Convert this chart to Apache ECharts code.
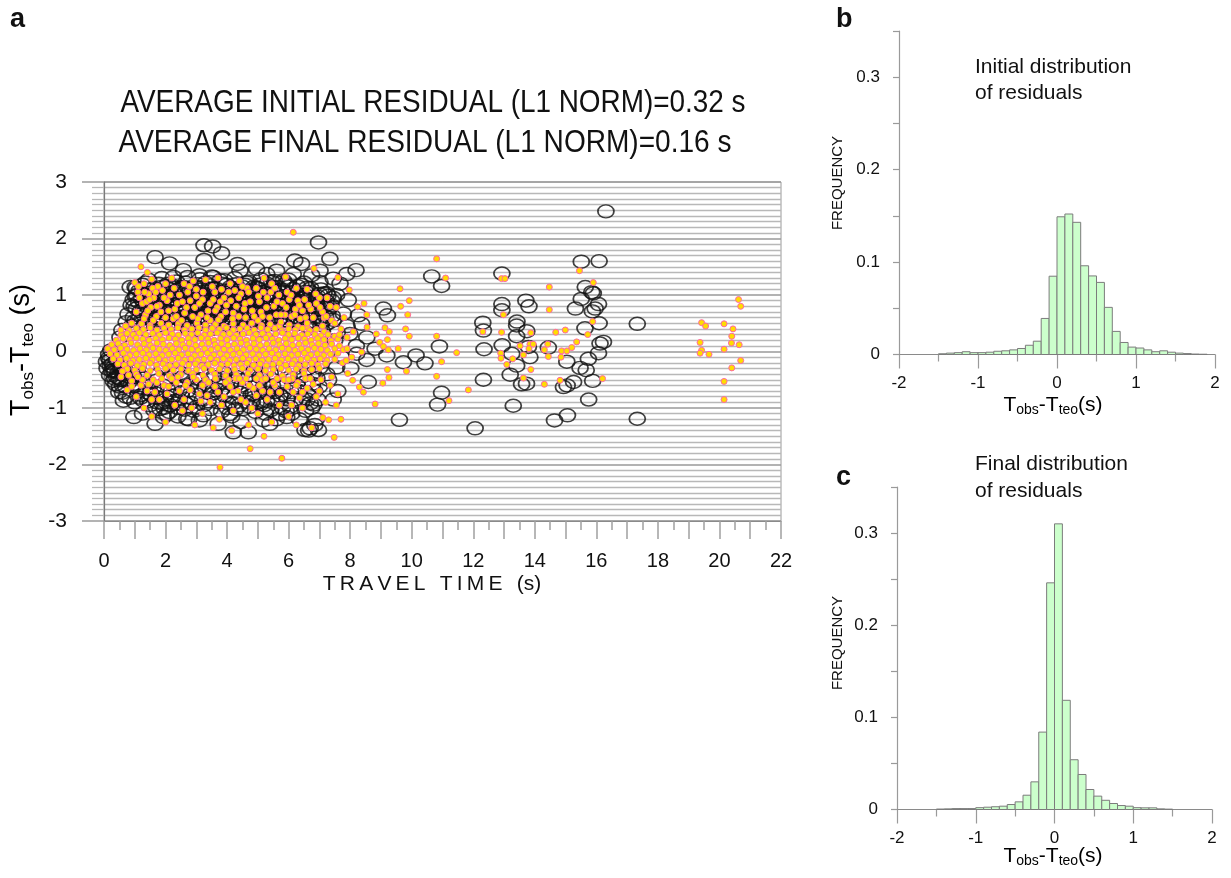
<!DOCTYPE html>
<html><head><meta charset="utf-8">
<script src="https://cdn.jsdelivr.net/npm/echarts@6/dist/echarts.min.js"></script>
<style>html,body{margin:0;padding:0;background:#fff}#c{width:1231px;height:878px}</style>
</head><body><div id="c"></div>
<script>
// ---------- Panel a: residual vs travel time ----------
const xTickValues = [0,2,4,6,8,10,12,14,16,18,20,22];
const yTickValues = [-3,-2,-1,0,1,2,3];

// initial residuals (open circles) - outliers beyond 8 s
const circlesFar = [[16.31,2.48],[15.51,1.59],[16.09,1.60],[10.65,1.33],[10.97,1.16],[12.93,1.38],[12.93,0.84],[12.93,0.73],[13.71,0.90],[13.81,0.80],[15.64,1.14],[15.90,1.03],[15.85,1.05],[15.51,0.93],[15.32,0.76],[16.07,0.84],[15.96,0.76],[15.87,0.71],[9.08,0.76],[9.21,0.64],[12.31,0.51],[12.33,0.37],[13.42,0.53],[13.41,0.46],[13.74,0.36],[13.41,0.27],[15.63,0.41],[16.09,0.50],[17.33,0.49],[10.90,0.09],[12.94,0.11],[12.35,0.04],[14.44,0.07],[13.79,0.08],[13.84,-0.10],[13.25,-0.04],[16.23,0.17],[16.12,0.14],[16.07,-0.03],[15.74,-0.13],[15.04,-0.18],[9.19,-0.07],[10.14,-0.07],[9.73,-0.19],[10.43,-0.21],[13.41,-0.25],[13.20,-0.41],[15.47,-0.29],[15.67,-0.33],[12.33,-0.50],[15.88,-0.52],[13.57,-0.58],[13.73,-0.57],[15.26,-0.54],[15.05,-0.60],[14.93,-0.63],[10.97,-0.73],[10.84,-0.94],[15.75,-0.85],[13.30,-0.96],[9.60,-1.21],[12.06,-1.36],[14.64,-1.22],[15.06,-1.13],[17.33,-1.19]];
// initial residuals - edge of the main cloud
const circlesEdge = [[6.97,1.93],[3.25,1.88],[3.53,1.86],[3.82,1.74],[1.66,1.67],[2.13,1.56],[3.25,1.62],[6.20,1.61],[6.42,1.55],[7.34,1.64],[4.34,1.55],[4.42,1.43],[8.19,1.44],[7.89,1.37],[2.58,1.44],[3.10,1.35],[1.01,1.14],[1.06,1.00],[4.96,1.46],[5.61,1.43],[6.15,1.37],[6.75,1.35],[7.45,1.29],[7.67,1.20],[7.56,1.00],[7.94,0.91],[8.27,0.64],[8.37,0.49],[7.99,0.31],[8.54,0.25],[8.81,0.05],[8.54,-0.15],[8.59,-0.54],[8.21,-0.04],[0.97,-1.16],[1.66,-1.28],[1.93,-1.16],[2.04,-1.11],[2.69,-1.19],[3.23,-1.13],[3.71,-1.28],[4.20,-1.43],[4.69,-1.43],[5.18,-1.22],[5.39,-1.28],[5.94,-1.16],[5.72,-1.11],[6.53,-1.39],[6.70,-1.36],[6.97,-1.39],[0.63,-0.87],[1.28,-0.87],[1.49,-0.75],[1.17,-0.63],[0.41,-0.45],[0.30,-0.33],[0.19,-0.16],[0.58,-0.25],[0.96,-0.45],[2.69,-0.45],[3.55,-0.69],[4.20,-0.92],[4.85,-0.75],[5.29,-0.87],[5.83,-0.75],[6.70,-0.92],[7.24,-0.40],[7.56,-0.28],[6.59,-0.52],[5.07,-0.45],[1.82,-1.02],[2.36,-0.92],[3.01,-0.98],[4.09,-1.11],[4.74,-0.98],[6.05,-0.98],[3.55,-0.45],[0.52,0.25],[0.85,1.14],[2.26,1.32],[2.53,1.14],[3.55,1.32],[3.77,1.26],[5.29,1.37],[5.83,1.26],[7.02,1.43],[7.02,1.23],[7.24,1.03],[7.34,0.79],[7.45,0.56],[7.78,0.67],[7.50,0.20],[7.72,-0.10],[7.90,0.45],[8.02,-0.30],[7.30,-0.50],[7.60,-0.70],[8.20,0.10],[7.45,-0.85]];
// initial residuals - dense band above the final-residual cloud
const circlesUpper = [[1.25,1.18],[1.62,1.12],[2.08,1.2],[2.47,1.1],[2.92,1.16],[3.3,1.22],[3.62,1.12],[3.98,1.18],[4.4,1.1],[4.88,1.15],[5.3,1.2],[5.78,1.1],[6.28,1.16],[6.72,1.12],
[1.02,0.98],[1.41,1.03],[1.83,0.96],[2.28,1.02],[2.66,0.97],[3.08,1.04],[3.48,0.98],[3.86,1.02],[4.22,0.95],[4.62,1.01],[5.08,0.97],[5.52,1.03],[5.98,0.96],[6.42,1.0],[6.88,0.95],[7.28,0.99],
[0.88,0.82],[1.28,0.87],[1.68,0.83],[2.02,0.88],[2.42,0.84],[2.82,0.86],[3.22,0.83],[3.6,0.88],[4.08,0.84],[4.5,0.87],[4.82,0.82],[5.22,0.86],[5.62,0.84],[6.08,0.88],[6.5,0.83],[6.82,0.86],[7.18,0.81],
[0.78,0.66],[1.18,0.71],[1.52,0.68],[1.88,0.72],[2.22,0.67],[2.6,0.7],[3.0,0.73],[3.38,0.68],[3.8,0.71],[4.28,0.67],[4.68,0.72],[5.02,0.69],[5.4,0.66],[5.88,0.71],[6.22,0.68],[6.62,0.72],[7.02,0.67],[7.42,0.63],
[0.72,0.52],[1.12,0.56],[1.58,0.53],[2.08,0.57],[2.5,0.54],[2.9,0.56],[3.3,0.52],[3.72,0.57],[4.02,0.54],[4.42,0.56],[4.9,0.52],[5.28,0.55],[5.7,0.57],[6.02,0.53],[6.42,0.55],[6.88,0.52],[7.28,0.5],
[0.58,0.38],[1.0,0.42],[1.42,0.37],[1.82,0.41],[2.3,0.38],[2.72,0.42],[3.12,0.37],[3.52,0.4],[4.2,0.38],[4.62,0.41],[5.1,0.37],[5.5,0.4],[6.2,0.38],[6.68,0.41],[7.1,0.36],[7.58,0.33],
[2.18,0.92],[2.55,0.78],[2.95,0.93],[3.15,0.76],[3.42,0.91],[3.75,0.79],[4.15,0.92],[4.35,0.77],[4.75,0.9],[5.0,0.78],[5.4,0.93],[5.78,0.77],[6.15,0.93],[6.35,0.76],[3.55,0.62],[4.55,0.61],[5.58,0.62],[2.4,0.62],[1.65,0.92],[1.95,0.78]];
const circlesUpperDense = [[1.45,1.27],[1.88,1.3],[2.35,1.24],[2.72,1.32],[3.12,1.28],[3.5,1.33],[3.92,1.26],[4.25,1.3],[4.7,1.24],[5.1,1.28],[5.55,1.25],[6.0,1.27],[6.5,1.22],
[1.15,1.08],[1.48,1.1],[1.95,1.05],[2.38,1.09],[2.78,1.06],[3.18,1.1],[3.58,1.05],[3.98,1.08],[4.32,1.04],[4.78,1.07],[5.18,1.05],[5.65,1.08],[6.1,1.04],[6.55,1.06],[7.0,1.02],
[1.22,0.93],[1.55,0.9],[1.98,0.94],[2.38,0.9],[2.78,0.93],[3.28,0.9],[3.68,0.94],[4.0,0.9],[4.45,0.93],[4.9,0.89],[5.28,0.92],[5.72,0.9],[6.22,0.91],[6.62,0.93],[7.05,0.89],[7.4,0.9],
[1.05,0.76],[1.42,0.78],[1.78,0.75],[2.12,0.79],[2.48,0.75],[2.9,0.78],[3.32,0.75],[3.7,0.79],[3.98,0.76],[4.4,0.78],[4.95,0.76],[5.35,0.79],[5.75,0.75],[6.02,0.78],[6.45,0.76],[6.9,0.78],[7.3,0.75],
[0.95,0.6],[1.32,0.63],[1.72,0.59],[2.05,0.64],[2.75,0.61],[3.2,0.63],[3.92,0.6],[4.12,0.64],[4.85,0.6],[5.22,0.63],[5.98,0.61],[6.42,0.63],[6.8,0.6],[7.2,0.62],
[0.9,0.46],[1.32,0.48],[1.78,0.46],[2.2,0.49],[2.65,0.46],[3.08,0.48],[3.5,0.45],[3.9,0.48],[4.28,0.46],[4.72,0.49],[5.12,0.45],[5.5,0.48],[5.88,0.46],[6.25,0.48],[6.62,0.45],[7.05,0.47],
[2.0,1.16],[2.6,1.14],[3.45,1.17],[4.1,1.14],[4.58,1.18],[5.0,1.12],[5.5,1.14],[6.0,1.15],[1.35,0.97],[2.12,0.98],[2.88,1.0],[3.65,0.97],[4.38,0.99],[5.15,1.0],[5.85,0.98],[6.6,0.98],[7.1,0.84],[6.3,0.84],[5.42,0.83],[4.62,0.8],[3.88,0.85],[3.05,0.81],[2.25,0.84],[1.48,0.84],[1.12,0.88],[1.62,0.7],[2.35,0.7],[3.12,0.69],[3.98,0.68],[4.82,0.68],[5.62,0.7],[6.4,0.68],[7.12,0.55],[6.18,0.56],[5.05,0.57],[4.18,0.52],[3.38,0.56],[2.55,0.49],[1.9,0.52],[1.2,0.5]];
const circlesUpperCore = [[1.35,1.22],[1.78,1.2],[2.22,1.17],[2.65,1.22],[3.05,1.19],[3.45,1.23],[3.85,1.2],[4.28,1.19],[4.65,1.22],[5.05,1.18],[5.45,1.24],[5.9,1.2],[6.4,1.18],
[1.05,1.12],[1.85,1.14],[2.3,1.13],[2.75,1.11],[3.2,1.14],[3.55,1.12],[4.18,1.12],[4.5,1.15],[4.95,1.13],[5.65,1.14],[6.15,1.11],[6.6,1.13],[7.05,1.1],
[1.25,1.03],[1.7,1.05],[2.15,1.04],[2.52,1.06],[2.98,1.03],[3.35,1.06],[3.75,1.04],[4.12,1.06],[4.52,1.04],[4.98,1.05],[5.38,1.03],[5.82,1.06],[6.25,1.03],[6.72,1.05],[7.15,1.03],
[0.95,0.92],[1.52,0.97],[1.92,0.99],[2.45,0.95],[2.82,0.97],[3.18,0.96],[3.58,0.93],[4.05,0.96],[4.48,0.95],[4.85,0.97],[5.25,0.96],[5.62,0.95],[6.05,0.94],[6.48,0.95],[6.95,0.97],[7.45,0.95],
[1.4,0.9],[1.82,0.89],[2.32,0.88],[2.68,0.91],[3.1,0.88],[3.52,0.86],[3.95,0.89],[4.32,0.87],[4.7,0.89],[5.12,0.88],[5.52,0.9],[5.92,0.87],[6.38,0.89],[6.75,0.9],[7.22,0.9],
[0.98,0.8],[1.6,0.8],[2.05,0.81],[2.52,0.82],[2.95,0.8],[3.42,0.81],[3.85,0.8],[4.22,0.81],[4.72,0.82],[5.1,0.8],[5.48,0.79],[5.88,0.81],[6.28,0.8],[6.72,0.8],[7.38,0.82],
[1.28,0.74],[1.72,0.72],[2.12,0.71],[2.52,0.73],[2.85,0.7],[3.25,0.72],[3.65,0.71],[4.05,0.73],[4.45,0.7],[4.9,0.72],[5.25,0.72],[5.72,0.73],[6.1,0.72],[6.52,0.7],[6.95,0.74],
[1.45,0.6],[1.85,0.62],[2.28,0.6],[2.65,0.62],[3.05,0.6],[3.48,0.61],[3.82,0.63],[4.32,0.6],[4.7,0.62],[5.12,0.6],[5.48,0.62],[5.85,0.6],[6.28,0.61],[6.65,0.62],[7.05,0.6],
[1.0,0.54],[1.45,0.52],[1.95,0.54],[2.35,0.53],[2.78,0.52],[3.18,0.55],[3.6,0.53],[4.15,0.55],[4.58,0.53],[5.0,0.54],[5.42,0.52],[5.82,0.55],[6.22,0.54],[6.65,0.52],[7.1,0.53]];
// initial residuals - band below the final-residual cloud
const circlesLower = [[0.3,-0.28],[0.68,-0.32],[1.1,-0.27],[1.52,-0.31],[1.9,-0.28],[2.32,-0.33],[2.78,-0.29],[3.22,-0.31],[3.6,-0.27],[4.02,-0.32],[4.48,-0.28],[4.9,-0.31],[5.32,-0.27],[5.78,-0.32],[6.22,-0.29],[6.6,-0.31],[7.02,-0.28],
[0.18,-0.42],[0.48,-0.47],[0.82,-0.44],[1.28,-0.48],[1.7,-0.43],[2.12,-0.46],[2.58,-0.44],[3.02,-0.48],[3.42,-0.43],[3.88,-0.47],[4.32,-0.45],[4.72,-0.42],[5.12,-0.47],[5.58,-0.44],[6.02,-0.46],[6.48,-0.43],[6.92,-0.47],
[0.38,-0.58],[0.7,-0.62],[1.02,-0.57],[1.48,-0.61],[1.92,-0.6],[2.38,-0.63],[2.82,-0.58],[3.28,-0.62],[3.7,-0.6],[4.12,-0.57],[4.58,-0.63],[5.02,-0.59],[5.48,-0.61],[6.28,-0.6],[6.78,-0.57],
[0.6,-0.73],[1.22,-0.77],[1.68,-0.74],[2.18,-0.78],[2.52,-0.72],[3.02,-0.76],[3.58,-0.74],[3.92,-0.78],[4.42,-0.73],[4.78,-0.77],[5.3,-0.74],[5.72,-0.78],[6.08,-0.72],[6.62,-0.76],
[1.42,-0.88],[1.88,-0.92],[2.3,-0.87],[2.82,-0.91],[3.38,-0.88],[4.02,-0.92],[4.62,-0.89],[5.08,-0.93],[5.62,-0.88],[6.42,-0.9],[6.82,-0.94],
[1.62,-1.04],[2.12,-1.07],[2.62,-1.03],[3.82,-1.06],[4.28,-1.02],[4.92,-1.07],[5.42,-1.04],[5.92,-1.06],
[0.15,-0.12],[0.28,-0.22],[0.42,-0.08],[0.22,0.02],[0.35,-0.35],[0.55,-0.5],[0.3,-0.52],[0.62,-0.38]];
const circlesLowerDense = [[0.4,-0.15],[0.55,-0.3],[0.25,-0.35],[0.5,-0.62],[0.75,-0.5],[0.9,-0.35],[1.05,-0.68],[0.85,-0.82],[1.35,-0.55],[1.6,-0.65],[1.5,-0.95],[1.75,-0.82],[1.95,-1.0],[2.05,-0.52],[2.2,-0.68],[2.45,-0.85],[2.4,-1.15],[2.7,-0.7],[2.92,-1.05],[3.15,-0.5],[3.2,-0.85],[3.5,-0.75],[3.45,-1.02],[3.75,-0.55],[3.7,-0.9],[4.05,-0.68],[4.2,-0.82],[4.15,-1.15],[4.48,-0.6],[4.52,-1.02],[4.85,-0.55],[4.95,-0.9],[5.2,-0.62],[5.25,-1.1],[5.55,-0.72],[5.78,-0.55],[5.8,-1.0],[6.15,-0.65],[6.2,-0.85],[6.5,-0.55],[6.55,-1.05],[6.85,-0.7],[7.0,-0.62],[1.15,-0.42],[2.5,-0.38],[3.9,-0.38],[5.4,-0.38],[6.8,-0.38],[1.25,-1.1],[2.75,-1.2],[3.1,-1.22],[4.45,-1.25],[5.6,-1.2],[6.35,-1.2],[6.65,-1.4],[6.85,-1.3],
[0.2,-0.25],[0.45,-0.38],[0.35,-0.48],[0.6,-0.6],[0.8,-0.55],[0.95,-0.62],[0.48,-0.72],[0.72,-0.8],[1.0,-0.9],[1.18,-0.82],[1.35,-0.72],[1.55,-0.78],[1.72,-0.9],[1.85,-0.7],[2.0,-0.85],[2.15,-0.95],[2.28,-0.78],[2.4,-1.0],[2.55,-0.62],[2.65,-0.92],[2.85,-0.82],[3.05,-0.65],[3.25,-0.95],[3.4,-0.62],[3.62,-0.85],[3.8,-0.68],[4.0,-1.0],[4.25,-0.62],[4.4,-0.95],[4.65,-0.75],[4.82,-0.88],[5.05,-0.7],[5.2,-0.95],[5.45,-0.85],[5.65,-0.62],[5.95,-0.85],[6.1,-1.1],[6.35,-0.7],[6.6,-0.85],[6.75,-1.0],[6.95,-0.85],[6.9,-1.2],[0.1,-0.3],[0.15,-0.05],[0.08,-0.18]];

// final residuals (yellow dots) - core band
const dotsBandUpper = [[1.22,0.49],[1.5,0.46],[1.85,0.5],[2.1,0.47],[2.42,0.49],[2.7,0.46],[3.02,0.5],[3.3,0.47],[3.62,0.48],[3.9,0.45],[4.2,0.49],[4.52,0.47],[4.8,0.5],[5.12,0.46],[5.4,0.48],[5.7,0.45],[6.02,0.47],[6.3,0.44],[6.6,0.43],
[0.82,0.37],[1.05,0.41],[1.28,0.39],[1.5,0.42],[1.72,0.38],[1.95,0.41],[2.18,0.39],[2.4,0.42],[2.62,0.38],[2.85,0.4],[3.08,0.42],[3.3,0.38],[3.52,0.41],[3.75,0.39],[3.98,0.42],[4.2,0.38],[4.42,0.4],[4.65,0.41],[4.88,0.38],[5.1,0.42],[5.32,0.39],[5.55,0.41],[5.78,0.37],[6.0,0.4],[6.22,0.38],[6.45,0.41],[6.68,0.37],[6.9,0.39],[7.15,0.35],
[0.55,0.29],[0.75,0.32],[0.95,0.3],[1.15,0.33],[1.36,0.3],[1.58,0.32],[1.8,0.29],[2.0,0.33],[2.22,0.31],[2.42,0.29],[2.64,0.32],[2.84,0.3],[3.05,0.33],[3.26,0.29],[3.46,0.31],[3.68,0.33],[3.88,0.3],[4.08,0.32],[4.3,0.29],[4.52,0.31],[4.72,0.33],[4.94,0.3],[5.15,0.32],[5.36,0.29],[5.58,0.31],[5.8,0.33],[6.0,0.3],[6.2,0.32],[6.42,0.29],[6.62,0.31],[6.85,0.3],[7.05,0.28],[7.28,0.3],[7.5,0.27],
[0.4,0.2],[0.62,0.23],[0.84,0.21],[1.05,0.24],[1.26,0.22],[1.47,0.2],[1.68,0.23],[1.9,0.21],[2.11,0.24],[2.32,0.22],[2.53,0.2],[2.74,0.23],[2.95,0.21],[3.16,0.24],[3.37,0.22],[3.58,0.2],[3.79,0.23],[4.0,0.21],[4.21,0.24],[4.42,0.22],[4.63,0.2],[4.84,0.23],[5.05,0.21],[5.26,0.24],[5.47,0.22],[5.68,0.2],[5.89,0.23],[6.1,0.21],[6.31,0.24],[6.52,0.22],[6.73,0.2],[6.94,0.23],[7.15,0.21],[7.38,0.19],[7.6,0.22],
[0.25,0.12],[0.46,0.14],[0.67,0.11],[0.88,0.15],[1.09,0.12],[1.3,0.14],[1.51,0.11],[1.72,0.15],[1.93,0.13],[2.14,0.11],[2.35,0.14],[2.56,0.12],[2.77,0.15],[2.98,0.11],[3.19,0.13],[3.4,0.15],[3.61,0.12],[3.82,0.14],[4.03,0.11],[4.24,0.13],[4.45,0.15],[4.66,0.12],[4.87,0.14],[5.08,0.11],[5.29,0.13],[5.5,0.15],[5.71,0.12],[5.92,0.14],[6.13,0.11],[6.34,0.13],[6.55,0.15],[6.76,0.12],[6.97,0.14],[7.18,0.11],[7.4,0.13],[7.65,0.1]];
const dotsBandLower = [[0.12,0.05],[0.33,0.03],[0.54,0.06],[0.75,0.04],[0.96,0.02],[1.17,0.05],[1.38,0.03],[1.59,0.06],[1.8,0.04],[2.01,0.02],[2.22,0.05],[2.43,0.03],[2.64,0.06],[2.85,0.04],[3.06,0.02],[3.27,0.05],[3.48,0.03],[3.69,0.06],[3.9,0.04],[4.11,0.02],[4.32,0.05],[4.53,0.03],[4.74,0.06],[4.95,0.04],[5.16,0.02],[5.37,0.05],[5.58,0.03],[5.79,0.06],[6.0,0.04],[6.21,0.02],[6.42,0.05],[6.63,0.03],[6.84,0.06],[7.05,0.04],[7.26,0.02],[7.5,0.05],[7.78,0.03],
[0.2,-0.04],[0.42,-0.06],[0.63,-0.03],[0.84,-0.07],[1.05,-0.05],[1.26,-0.03],[1.47,-0.06],[1.68,-0.04],[1.89,-0.07],[2.1,-0.05],[2.31,-0.03],[2.52,-0.06],[2.73,-0.04],[2.94,-0.07],[3.15,-0.05],[3.36,-0.03],[3.57,-0.06],[3.78,-0.04],[3.99,-0.07],[4.2,-0.05],[4.41,-0.03],[4.62,-0.06],[4.83,-0.04],[5.04,-0.07],[5.25,-0.05],[5.46,-0.03],[5.67,-0.06],[5.88,-0.04],[6.09,-0.07],[6.3,-0.05],[6.51,-0.03],[6.72,-0.06],[6.93,-0.04],[7.14,-0.07],[7.36,-0.05],[7.6,-0.03],
[0.3,-0.13],[0.52,-0.15],[0.73,-0.12],[0.94,-0.16],[1.15,-0.14],[1.36,-0.12],[1.57,-0.15],[1.78,-0.13],[1.99,-0.16],[2.2,-0.14],[2.41,-0.12],[2.62,-0.15],[2.83,-0.13],[3.04,-0.16],[3.25,-0.14],[3.46,-0.12],[3.67,-0.15],[3.88,-0.13],[4.09,-0.16],[4.3,-0.14],[4.51,-0.12],[4.72,-0.15],[4.93,-0.13],[5.14,-0.16],[5.35,-0.14],[5.56,-0.12],[5.77,-0.15],[5.98,-0.13],[6.19,-0.16],[6.4,-0.14],[6.61,-0.12],[6.82,-0.15],[7.03,-0.13],[7.25,-0.16],[7.5,-0.14],
[0.45,-0.22],[0.66,-0.24],[0.87,-0.21],[1.08,-0.25],[1.29,-0.23],[1.5,-0.21],[1.71,-0.24],[1.92,-0.22],[2.13,-0.25],[2.34,-0.23],[2.55,-0.21],[2.76,-0.24],[2.97,-0.22],[3.18,-0.25],[3.39,-0.23],[3.6,-0.21],[3.81,-0.24],[4.02,-0.22],[4.23,-0.25],[4.44,-0.23],[4.65,-0.21],[4.86,-0.24],[5.07,-0.22],[5.28,-0.25],[5.49,-0.23],[5.7,-0.21],[5.91,-0.24],[6.12,-0.22],[6.33,-0.25],[6.54,-0.23],[6.75,-0.21],[6.96,-0.24],[7.2,-0.22],
[0.75,-0.31],[1.0,-0.33],[1.25,-0.3],[1.5,-0.34],[1.75,-0.32],[2.0,-0.3],[2.25,-0.33],[2.5,-0.31],[2.75,-0.34],[3.0,-0.32],[3.25,-0.3],[3.5,-0.33],[3.75,-0.31],[4.0,-0.34],[4.25,-0.32],[4.5,-0.3],[4.75,-0.33],[5.0,-0.31],[5.25,-0.34],[5.5,-0.32],[5.75,-0.3],[6.0,-0.33],[6.25,-0.31],[6.5,-0.34],[6.75,-0.32],[7.0,-0.3],
[1.05,-0.4],[1.4,-0.42],[1.78,-0.39],[2.12,-0.43],[2.5,-0.41],[2.88,-0.39],[3.22,-0.42],[3.6,-0.4],[3.95,-0.43],[4.3,-0.41],[4.68,-0.39],[5.05,-0.42],[5.42,-0.4],[5.8,-0.43],[6.15,-0.41],[6.5,-0.39]];
// final residuals - scattered above the band
const dotsAbove = [[1.2,1.5],[1.41,1.4],[1.0,1.22],[1.3,1.2],[1.55,1.28],[1.75,1.15],[1.1,1.05],[1.45,1.02],[1.62,0.95],[1.9,1.08],[2.05,0.9],[1.25,0.85],[1.52,0.78],[1.8,0.82],[2.3,0.75],[1.05,0.7],[1.35,0.65],[1.7,0.62],[2.0,0.6],[2.45,1.0],[2.6,1.2],[2.8,0.9],[3.0,1.1],[3.15,0.65],[3.3,1.27],[3.45,0.85],[3.6,1.05],[3.8,0.62],[3.9,0.95],[4.1,1.2],[4.3,0.8],[4.45,1.02],[4.6,0.6],[4.75,0.88],[4.95,1.12],[5.1,0.7],[5.3,0.95],[5.45,1.2],[5.6,0.65],[5.8,0.85],[5.95,1.05],[6.1,0.62],[6.3,0.9],[6.45,0.72],[6.6,1.1],[6.8,0.6],[6.82,1.47],[6.9,0.85],[7.1,0.7],[7.25,0.95],[7.4,0.55],[7.6,1.31],[7.55,0.78],[7.8,0.6],[7.97,1.09],[8.24,0.79],[8.45,0.85],[8.54,0.65],[8.55,0.43],[8.85,0.31],[8.96,0.16],[2.2,1.3],[2.9,1.25],[3.7,1.3],[4.4,1.25],[5.2,1.3],[5.9,1.32],[6.15,2.11],[2.52,0.55],[3.45,0.55],[4.2,0.68],[5.0,0.55],[5.75,0.52],[6.6,0.5],[7.1,0.45],[7.7,0.4],[7.9,0.25],
[1.15,0.95],[1.38,0.88],[1.58,1.12],[1.85,0.7],[2.15,1.0],[2.25,0.58],[2.38,0.85],[2.62,0.68],[2.72,1.05],[2.95,0.78],[3.05,0.58],[3.2,0.92],[3.38,0.72],[3.52,1.15],[3.68,0.78],[3.72,0.56],[3.98,0.82],[4.05,1.05],[4.18,0.58],[4.38,0.95],[4.55,0.75],[4.65,1.12],[4.88,0.62],[5.05,0.88],[5.18,1.05],[5.38,0.6],[5.52,0.8],[5.68,1.0],[5.88,0.65],[6.02,0.92],[6.22,0.75],[6.38,0.58],[6.52,0.92],[6.72,0.75],[7.0,0.95],[7.15,0.6],[7.35,0.8],[7.5,0.5],[1.3,0.58],[1.6,0.55],[0.9,0.5],[0.7,0.45],[0.55,0.38],[7.65,0.3],[7.9,0.05],[8.05,-0.1],[8.1,0.35],[7.75,-0.2],
[1.12,1.15],[1.32,1.05],[1.48,0.92],[1.68,1.05],[1.72,0.8],[1.95,0.95],[2.1,0.72],[2.28,1.12],[2.35,0.62],[2.55,0.88],[2.68,0.78],[2.78,1.15],[2.88,0.62],[3.1,0.85],[3.22,1.05],[3.35,0.6],[3.55,0.92],[3.62,0.72],[3.82,1.1],[3.95,0.7],[4.12,0.9],[4.25,1.08],[4.38,0.62],[4.58,0.85],[4.7,1.05],[4.82,0.72],[5.02,0.98],[5.15,0.62],[5.28,0.78],[5.42,1.05],[5.62,0.88],[5.75,0.65],[5.92,0.78],[6.08,1.0],[6.2,0.65],[6.35,0.82],[6.55,0.6],[6.65,0.82],[6.88,1.02],[7.02,0.78],[7.22,0.62],[1.42,0.72],[2.0,1.2],[3.0,0.98],[3.78,0.88],[4.5,1.15],[5.55,1.12],[6.25,1.12]];
// final residuals - scattered below the band
const dotsBelow = [[0.55,-0.45],[0.9,-0.52],[1.2,-0.6],[1.05,-0.8],[1.4,-0.7],[1.6,-0.5],[1.8,-0.85],[1.95,-0.6],[2.2,-0.48],[2.3,-0.95],[2.45,-0.7],[2.7,-0.55],[2.85,-1.0],[2.95,-1.3],[3.1,-0.75],[3.3,-0.5],[3.45,-0.9],[3.6,-0.62],[3.75,-1.2],[3.9,-0.8],[4.05,-0.5],[4.2,-1.05],[4.35,-0.7],[4.5,-0.55],[4.6,-0.9],[4.7,-1.3],[4.85,-0.65],[5.0,-1.1],[5.15,-0.5],[5.3,-0.85],[5.45,-1.25],[5.55,-0.6],[5.7,-0.95],[5.85,-0.5],[6.0,-1.15],[6.15,-0.72],[6.3,-0.55],[6.45,-1.0],[6.6,-0.65],[6.75,-1.35],[6.9,-0.8],[7.05,-0.5],[7.11,-1.17],[7.2,-0.9],[7.3,-1.21],[7.35,-0.6],[7.48,-1.52],[7.6,-0.75],[7.87,-0.16],[7.92,-0.39],[8.08,-0.51],[8.3,-0.63],[8.43,-0.72],[8.81,-0.93],[8.37,-0.01],[3.77,-2.05],[4.75,-1.72],[5.78,-1.89],[1.3,-1.0],[2.0,-1.25],[3.2,-1.1],[4.15,-1.4],[5.2,-1.5],[6.25,-1.3],[0.75,-0.68],[1.55,-1.15],[2.6,-0.85],[3.55,-1.35],[4.95,-0.78],[6.1,-0.95],
[0.6,-0.35],[0.8,-0.42],[1.25,-0.5],[1.55,-0.85],[1.72,-0.55],[2.05,-0.75],[2.35,-0.55],[2.55,-1.05],[2.8,-0.68],[3.0,-0.5],[3.2,-0.6],[3.35,-0.78],[3.62,-0.48],[3.82,-0.95],[4.1,-0.62],[4.28,-0.48],[4.45,-0.85],[4.62,-0.48],[4.8,-1.0],[5.05,-0.6],[5.25,-0.48],[5.4,-0.72],[5.62,-0.48],[5.95,-0.62],[6.12,-0.48],[6.35,-0.82],[6.55,-0.48],[6.8,-0.58],[7.0,-0.7],[7.4,-0.45],[7.55,-0.95],[7.7,-1.2],
[0.9,-0.62],[1.1,-0.45],[1.45,-0.58],[1.65,-0.72],[1.88,-0.48],[2.1,-0.62],[2.4,-0.45],[2.65,-0.6],[2.9,-0.45],[3.15,-0.88],[3.4,-0.55],[3.7,-0.72],[3.95,-0.55],[4.2,-0.72],[4.4,-0.48],[4.72,-0.6],[4.95,-0.48],[5.15,-0.7],[5.5,-0.55],[5.7,-0.72],[6.0,-0.5],[6.25,-0.6],[6.45,-0.72],[6.7,-0.48]];
// final residuals - beyond 8.5 s
const dotsFar = [[10.81,1.64],[11.10,1.30],[12.92,1.29],[13.03,1.29],[14.47,1.14],[15.45,1.43],[15.90,1.22],[15.88,0.53],[14.47,0.74],[9.62,1.11],[9.92,0.90],[9.64,0.80],[9.87,0.65],[9.80,0.40],[9.92,0.27],[9.13,0.42],[9.27,0.35],[9.21,0.21],[9.24,0.03],[9.08,0.09],[9.56,0.05],[9.21,-0.32],[9.26,-0.46],[9.83,-0.35],[9.06,-0.56],[10.81,0.27],[10.97,-0.18],[10.81,-0.44],[11.46,-0.02],[11.84,-0.68],[11.21,-0.87],[12.31,0.35],[12.98,0.65],[12.92,0.34],[12.89,-0.03],[12.90,-0.12],[13.09,-0.23],[13.28,-0.13],[13.63,-0.06],[13.84,0.13],[13.95,0.13],[13.81,0.05],[13.87,0.33],[13.63,-0.47],[13.87,-0.32],[13.52,0.10],[14.31,0.03],[14.31,-0.58],[14.42,0.13],[14.44,-0.09],[14.68,0.34],[14.99,0.38],[14.87,0.01],[15.04,0.01],[15.20,0.07],[15.36,0.17],[14.85,-0.10],[14.82,-0.51],[15.72,0.30],[16.20,-0.48],[19.42,0.51],[19.55,0.45],[20.15,0.49],[20.44,0.40],[20.62,0.92],[20.69,0.80],[20.40,0.27],[20.39,0.15],[20.64,0.12],[19.37,0.16],[19.42,0.02],[19.37,-0.03],[19.66,-0.05],[20.15,0.04],[20.69,-0.16],[20.40,-0.29],[20.15,-0.53],[20.15,-0.85]];

// ---------- Panels b, c: histograms (bin width 0.1) ----------
const binLeftB = [-1.5,-1.4,-1.3,-1.2,-1.1,-1.0,-0.9,-0.8,-0.7,-0.6,-0.5,-0.4,-0.3,-0.2,-0.1,0.0,0.1,0.2,0.3,0.4,0.5,0.6,0.7,0.8,0.9,1.0,1.1,1.2,1.3,1.4,1.5,1.6,1.7,1.8];
const freqB = [0.0008,0.0015,0.002,0.003,0.002,0.002,0.0025,0.0035,0.004,0.005,0.0065,0.010,0.0144,0.039,0.0847,0.149,0.152,0.143,0.096,0.085,0.078,0.051,0.025,0.013,0.008,0.007,0.005,0.003,0.004,0.0025,0.0015,0.001,0.0005,0.0003];
const binLeftC = [-1.5,-1.4,-1.3,-1.2,-1.1,-1.0,-0.9,-0.8,-0.7,-0.6,-0.5,-0.4,-0.3,-0.2,-0.1,0.0,0.1,0.2,0.3,0.4,0.5,0.6,0.7,0.8,0.9,1.0,1.1,1.2,1.3,1.4];
const freqC = [0.0005,0.0007,0.001,0.001,0.001,0.002,0.0025,0.003,0.0036,0.0054,0.0083,0.0155,0.030,0.084,0.246,0.310,0.1185,0.054,0.038,0.0217,0.0145,0.010,0.0065,0.0043,0.0036,0.002,0.0018,0.0018,0.0007,0.0004];
const binWidth = 0.1;
const histXTicks = [-2,-1,0,1,2];
const histYTicks = [0,0.1,0.2,0.3];

const FONT = '"Liberation Sans", Arial, sans-serif';

const chart = echarts.init(document.getElementById('c'), null, {renderer: 'canvas'});

function histAxes(gi) {
  return {
    x: {gridIndex: gi, type: 'value', min: -2, max: 2, interval: 1,
      axisLine: {show: true, onZero: false, lineStyle: {color: '#8a8a8a', width: 1.2}},
      axisTick: {show: true, length: 14, lineStyle: {color: '#9a9a9a', width: 1.2}},
      minorTick: {show: true, splitNumber: 2, length: 7, lineStyle: {color: '#9a9a9a', width: 1.2}},
      axisLabel: {fontFamily: FONT, fontSize: 17, color: '#111', margin: 20,
        formatter: v => histXTicks.includes(v) ? String(v) : ''},
      splitLine: {show: false}},
    y: {gridIndex: gi, type: 'value', min: 0, max: 0.35, interval: 0.05,
      axisLine: {show: true, onZero: false, lineStyle: {color: '#9a9a9a', width: 1.2}},
      axisTick: {show: true, length: 6, lineStyle: {color: '#9a9a9a', width: 1.2}},
      axisLabel: {fontFamily: FONT, fontSize: 17, color: '#111', margin: 19,
        formatter: v => { const r = Math.round(v * 100) / 100; return histYTicks.includes(r) ? (r === 0 ? '0' : r.toFixed(1)) : ''; }},
      splitLine: {show: false}}
  };
}
const hb = histAxes(1), hc = histAxes(2);

function histRender(params, api) {
  const p0 = api.coord([api.value(0), api.value(2)]);
  const p1 = api.coord([api.value(1), 0]);
  return {type: 'rect', shape: {x: p0[0], y: p0[1], width: p1[0] - p0[0], height: p1[1] - p0[1]},
    style: {fill: '#ccffcc', stroke: '#7c7c7c', lineWidth: 1}};
}

const subRich = (main, sub, lh) => ({
  m: {fontFamily: FONT, fontSize: main, color: '#111', lineHeight: lh, verticalAlign: 'middle'},
  s: {fontFamily: FONT, fontSize: sub, color: '#111', lineHeight: sub - 2, verticalAlign: 'bottom'}
});
const titleStyle = t => ({text: t, font: '31px ' + FONT, fill: '#111', textAlign: 'center', textVerticalAlign: 'middle', verticalAlign: 'middle'});

const option = {
  backgroundColor: '#ffffff',
  animation: false,
  grid: [
    {left: 104, top: 182, width: 677, height: 339, show: true, borderColor: '#9a9a9a', borderWidth: 1, backgroundColor: 'transparent'},
    {left: 899, top: 31, width: 316, height: 323.5},
    {left: 897, top: 487, width: 315, height: 322.5}
  ],
  xAxis: [
    {gridIndex: 0, type: 'value', min: 0, max: 22, interval: 1,
      axisLine: {show: true, onZero: false, lineStyle: {color: '#8a8a8a', width: 1.2}},
      axisTick: {show: true, length: 18, lineStyle: {color: '#a0a0a0', width: 1.5}},
      minorTick: {show: true, splitNumber: 2, length: 9, lineStyle: {color: '#a0a0a0', width: 1.5}},
      axisLabel: {fontFamily: FONT, fontSize: 20, color: '#111', margin: 30,
        formatter: v => xTickValues.includes(v) ? String(v) : ''},
      splitLine: {show: false}},
    hb.x, hc.x
  ],
  yAxis: [
    {gridIndex: 0, type: 'value', min: -3, max: 3, interval: 1,
      axisLine: {show: true, onZero: false, lineStyle: {color: '#7a7a7a', width: 1.2}},
      axisTick: {show: true, length: 22, lineStyle: {color: '#9a9a9a', width: 1.5}},
      minorTick: {show: true, splitNumber: 10, length: 12, lineStyle: {color: '#b8b8b8', width: 1.3}},
      splitLine: {show: true, lineStyle: {color: '#9a9a9a', width: 1.5}},
      minorSplitLine: {show: true, lineStyle: {color: '#b8b8b8', width: 1.3}},
      axisLabel: {fontFamily: FONT, fontSize: 21, color: '#111', margin: 37,
        formatter: v => yTickValues.includes(v) ? String(v) : ''}},
    hb.y, hc.y
  ],
  series: [
    {type: 'scatter', xAxisIndex: 0, yAxisIndex: 0, symbol: 'circle', symbolSize: [16, 13], silent: true,
      itemStyle: {color: 'rgba(0,0,0,0)', borderColor: '#111', borderWidth: 1.6},
      data: circlesFar.concat(circlesEdge, circlesUpper, circlesUpperDense, circlesUpperCore, circlesLower, circlesLowerDense), z: 2},
    {type: 'scatter', xAxisIndex: 0, yAxisIndex: 0, symbol: 'circle', symbolSize: 6, silent: true,
      itemStyle: {color: '#ffdc00', borderColor: '#ff68a4', borderWidth: 1, opacity: 1},
      data: dotsBandUpper.concat(dotsBandLower, dotsAbove, dotsBelow, dotsFar), z: 3},
    {type: 'custom', xAxisIndex: 1, yAxisIndex: 1, renderItem: histRender, encode: {x: [0, 1], y: 2}, silent: true,
      data: binLeftB.map((l, i) => [l, l + binWidth, freqB[i]])},
    {type: 'custom', xAxisIndex: 2, yAxisIndex: 2, renderItem: histRender, encode: {x: [0, 1], y: 2}, silent: true,
      data: binLeftC.map((l, i) => [l, l + binWidth, freqC[i]])}
  ],
  graphic: [
    {type: 'text', x: 10, y: 6, style: {text: 'a', font: 'bold 27px ' + FONT, fill: '#111'}},
    {type: 'text', x: 836, y: 6, style: {text: 'b', font: 'bold 27px ' + FONT, fill: '#111'}},
    {type: 'text', x: 836, y: 464, style: {text: 'c', font: 'bold 27px ' + FONT, fill: '#111'}},
    {type: 'text', x: 433, y: 103, scaleX: 0.9, style: titleStyle('AVERAGE INITIAL RESIDUAL (L1 NORM)=0.32 s')},
    {type: 'text', x: 425, y: 143, scaleX: 0.905, style: titleStyle('AVERAGE FINAL RESIDUAL (L1 NORM)=0.16 s')},
    {type: 'text', x: 432, y: 584, style: {text: 'T\u2009R\u2009A\u2009V\u2009E\u2009L\u2009 \u2009T\u2009I\u2009M\u2009E\u2009 \u2009(s)', font: '21px ' + FONT, fill: '#111', textAlign: 'center', textVerticalAlign: 'middle', verticalAlign: 'middle'}},
    {type: 'text', x: 22, y: 350, rotation: Math.PI / 2,
      style: {text: '{m|T}{s|obs}{m|-T}{s|teo}{m| (s)}', rich: subRich(27, 17, 30), textAlign: 'center', textVerticalAlign: 'middle', verticalAlign: 'middle'}},
    {type: 'text', x: 838, y: 183, rotation: Math.PI / 2, style: {text: 'FREQUENCY', font: '15px ' + FONT, fill: '#111', textAlign: 'center', textVerticalAlign: 'middle', verticalAlign: 'middle'}},
    {type: 'text', x: 838, y: 643, rotation: Math.PI / 2, style: {text: 'FREQUENCY', font: '15px ' + FONT, fill: '#111', textAlign: 'center', textVerticalAlign: 'middle', verticalAlign: 'middle'}},
    {type: 'text', x: 1053, y: 405, style: {text: '{m|T}{s|obs}{m|-T}{s|teo}{m|(s)}', rich: subRich(21, 14, 24), textAlign: 'center', textVerticalAlign: 'middle', verticalAlign: 'middle'}},
    {type: 'text', x: 1053, y: 856, style: {text: '{m|T}{s|obs}{m|-T}{s|teo}{m|(s)}', rich: subRich(21, 14, 24), textAlign: 'center', textVerticalAlign: 'middle', verticalAlign: 'middle'}},
    {type: 'text', x: 975, y: 80, style: {text: 'Initial distribution\nof residuals', font: '21px ' + FONT, lineHeight: 26, fill: '#111', textAlign: 'left', textVerticalAlign: 'middle', verticalAlign: 'middle'}},
    {type: 'text', x: 975, y: 478, style: {text: 'Final distribution\nof residuals', font: '21px ' + FONT, lineHeight: 27, fill: '#111', textAlign: 'left', textVerticalAlign: 'middle', verticalAlign: 'middle'}}
  ]
};
chart.setOption(option);
</script></body></html>
